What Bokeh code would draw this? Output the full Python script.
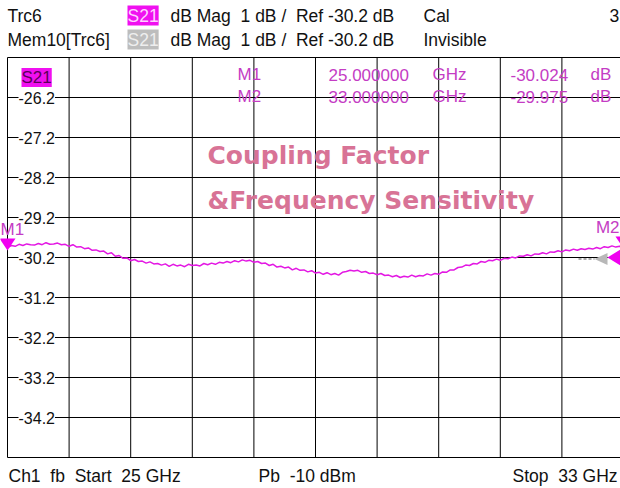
from bokeh.plotting import figure
from bokeh.models import Label, Range1d
from bokeh.embed import file_html
from bokeh.resources import INLINE
import numpy as np

# ---------------- data ----------------
start_ghz = 25.0
stop_ghz = 33.0
ref_db = -30.2
db_per_div = 1.0
n_div = 10
y_ticks = [-26.2, -27.2, -28.2, -29.2, -30.2, -31.2, -32.2, -33.2, -34.2]
y_tick_labels = ["-26.2", "-27.2", "-28.2", "-29.2", "-30.2", "-31.2", "-32.2", "-33.2", "-34.2"]
s21_db = [
    -29.95, -29.90, -29.92, -29.87, -29.90, -29.86, -29.88, -29.89, -29.85, -29.88,
    -29.83, -29.87, -29.86, -29.84, -29.88, -29.87, -29.92, -29.88, -29.94, -29.93,
    -29.98, -29.96, -30.02, -30.01, -30.05, -30.04, -30.11, -30.08, -30.17, -30.15,
    -30.22, -30.21, -30.28, -30.25, -30.30, -30.29, -30.34, -30.31, -30.36, -30.35,
    -30.39, -30.36, -30.42, -30.37, -30.41, -30.39, -30.43, -30.37, -30.40, -30.39,
    -30.41, -30.35, -30.38, -30.34, -30.37, -30.32, -30.34, -30.30, -30.33, -30.28,
    -30.31, -30.26, -30.29, -30.27, -30.32, -30.30, -30.35, -30.34, -30.40, -30.37,
    -30.44, -30.42, -30.46, -30.44, -30.51, -30.47, -30.52, -30.51, -30.56, -30.53,
    -30.59, -30.57, -30.62, -30.58, -30.63, -30.60, -30.64, -30.57, -30.55, -30.52,
    -30.54, -30.52, -30.57, -30.55, -30.60, -30.59, -30.63, -30.60, -30.65, -30.64,
    -30.68, -30.65, -30.70, -30.67, -30.69, -30.64, -30.68, -30.65, -30.66, -30.61,
    -30.64, -30.60, -30.62, -30.56, -30.57, -30.51, -30.51, -30.45, -30.44, -30.39,
    -30.40, -30.35, -30.36, -30.30, -30.32, -30.27, -30.28, -30.24, -30.27, -30.22,
    -30.23, -30.19, -30.21, -30.16, -30.17, -30.13, -30.16, -30.11, -30.12, -30.08,
    -30.11, -30.06, -30.07, -30.03, -30.06, -30.01, -30.03, -29.99, -30.02, -29.98,
    -30.00, -29.97, -29.99, -29.95, -29.98, -29.93, -29.95, -29.91, -29.94, -29.92,
    -29.95]
marker_names = ["M1", "M2"]
marker_freq = [25.0, 33.0]
marker_db = [-30.024, -29.975]
NB = "\u00a0"
header_rows = [
    ("Trc6", "S21", f"dB Mag{NB} 1 dB /{NB} Ref -30.2 dB", "Cal"),
    ("Mem10[Trc6]", "S21", f"dB Mag{NB} 1 dB /{NB} Ref -30.2 dB", "Invisible"),
]
channel_no = "3"
footer = [f"Ch1{NB} fb{NB} Start{NB} 25 GHz", f"Pb{NB} -10 dBm", f"Stop{NB} 33 GHz"]
title_lines = ["Coupling Factor", "&Frequency Sensitivity"]

# ---------------- layout (frame covers the whole canvas) ----------------
W, H = 620, 488
GRID_LEFT, GRID_TOP, GRID_H = 7, 57, 400     # window pixels of the measurement grid
DIV_PX = 61.6
ghz_per_px = (stop_ghz - start_ghz) / (n_div * DIV_PX)
db_per_px = db_per_div * n_div / GRID_H
y_lo = ref_db - n_div / 2 * db_per_div
y_hi = ref_db + n_div / 2 * db_per_div


def dx(wx):
    return start_ghz + (wx - GRID_LEFT) * ghz_per_px


def dy(wy):
    return y_hi - (wy - GRID_TOP) * db_per_px


FONT = "Liberation Sans"
MAG = "#E318E3"
MK_TXT = "#C43CC4"
HDR = "17.5px"

p = figure(width=W, height=H, output_backend="svg", toolbar_location=None,
           x_range=Range1d(dx(0), dx(W)), y_range=Range1d(dy(H), dy(0)),
           min_border_left=0, min_border_right=0,
           min_border_top=0, min_border_bottom=0)
p.xaxis.visible = False
p.yaxis.visible = False
p.xgrid.visible = False
p.ygrid.visible = False
p.background_fill_color = "white"
p.border_fill_color = "white"
p.outline_line_color = None

# measurement grid (border + divisions)
div_ghz = (stop_ghz - start_ghz) / n_div
vx = [start_ghz + i * div_ghz for i in range(n_div + 1)]
hy = [y_lo] + y_ticks + [y_hi]
p.segment(x0=vx, y0=[y_lo] * len(vx), x1=vx, y1=[y_hi] * len(vx), color="black", line_width=1)
p.segment(x0=[start_ghz] * len(hy), y0=hy, x1=[stop_ghz] * len(hy), y1=hy, color="black", line_width=1)


def lab(text, wx, wy, size="17px", color="#111111", bold=False, font=FONT, **kw):
    l = Label(x=dx(wx), y=dy(wy), text=text,
              text_font=font, text_font_size=size, text_color=color,
              text_font_style="bold" if bold else "normal",
              text_baseline="middle", **kw)
    p.add_layout(l)
    return l


# header
row_mid = [15, 39]
for (name, sp, desc, state), my, bg, fg in zip(header_rows, row_mid,
                                             ["#F010F0", "#BDBDBD"], ["#FFD0FF", "#EEEEEE"]):
    lab(name, 7, my, size=HDR)
    lab(sp, 127, my, size=HDR, color=fg, background_fill_color=bg)
    lab(desc, 170, my, size=HDR)
    lab(state, 423, my, size=HDR)
lab(channel_no, 609, 15, size=HDR)

# footer
lab(footer[0], 8, 475, size=HDR)
lab(footer[1], 258, 475, size=HDR)
lab(footer[2], 512, 475, size=HDR)

# y tick labels (white boxes break the grid lines)
for t, s in zip(y_ticks, y_tick_labels):
    p.add_layout(Label(x=dx(18), y=t, text=s,
                       text_font=FONT, text_font_size="16px", text_color="#111111",
                       text_baseline="middle", background_fill_color="white"))

# in-plot trace tag
lab("S21", 21, 77, size="17px", color="#5A005A", background_fill_color="#F010F0")

# marker table
for i, (nm, f, v) in enumerate(zip(marker_names, marker_freq, marker_db)):
    my = 74 + 22 * i
    lab(nm, 237, my, color=MK_TXT)
    lab(f"{f:.6f}", 328, my, color=MK_TXT)
    lab("GHz", 432, my, color=MK_TXT)
    lab(f"{v:.3f}", 510, my, color=MK_TXT)
    lab("dB", 590, my, color=MK_TXT)

# annotation title
lab(title_lines[0], 207, 155, size="25px", color="#D87396", bold=True, font="DejaVu Sans")
lab(title_lines[1], 207, 200, size="25px", color="#D87396", bold=True, font="DejaVu Sans")

# trace
freq = np.linspace(start_ghz, stop_ghz, len(s21_db))
p.line(freq, s21_db, color=MAG, line_width=1.5)

# markers (downward triangles with tip on the marker value)
tw, th = 8 * ghz_per_px, 12 * db_per_px
for j, (nm, f, v) in enumerate(zip(marker_names, marker_freq, marker_db)):
    p.patch([f - tw, f + tw, f], [v + th, v + th, v], color="#F000F0", line_width=0)
    # keep the marker names just inside the visible window
    edge_x = dx(0) if j == 0 else dx(W - 1)
    p.add_layout(Label(x=edge_x, y=v + th, text=nm,
                       text_font=FONT, text_font_size="17px", text_color=MK_TXT,
                       text_align="left" if j == 0 else "right",
                       text_baseline="middle", y_offset=9))

# reference level indicators at right edge
rx = stop_ghz
p.line([rx - 45 * ghz_per_px, rx - 29 * ghz_per_px], [ref_db - 1.5 * db_per_px] * 2,
       color="#AAAAAA", line_width=2, line_dash="3 2")
p.patch([rx - 29 * ghz_per_px, rx - 16 * ghz_per_px, rx - 16 * ghz_per_px],
        [ref_db - 1.5 * db_per_px, ref_db + 4.5 * db_per_px, ref_db - 7.5 * db_per_px],
        color="#B8B8B8", line_width=0)
p.patch([rx - 16 * ghz_per_px, rx, rx],
        [ref_db, ref_db + 10 * db_per_px, ref_db - 10 * db_per_px],
        color="#F000F0", line_width=0)

open("out.html", "w").write(file_html(p, INLINE))
